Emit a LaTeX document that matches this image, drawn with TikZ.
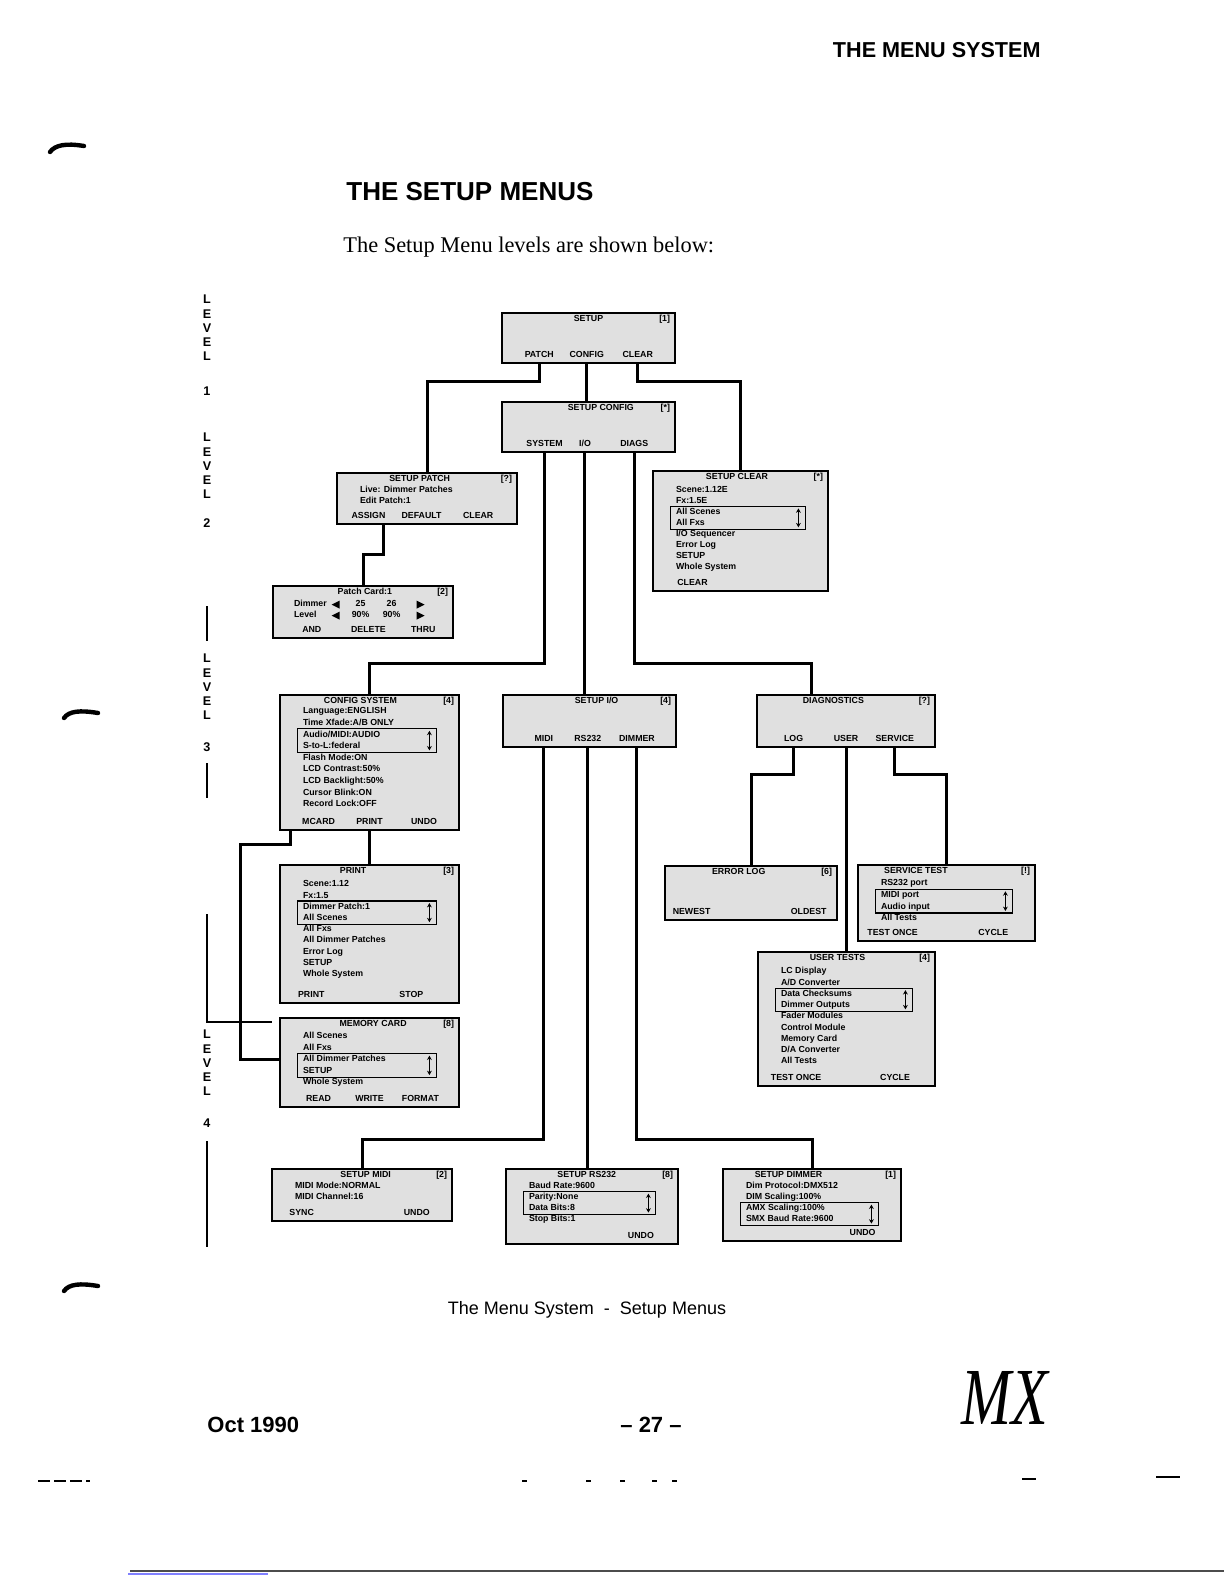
\documentclass[tikz,border=0pt]{standalone}
\usepackage{fontspec}
\setmainfont{Liberation Serif}
\setsansfont{Liberation Sans}
\usepackage{tikz}
\usetikzlibrary{arrows.meta,positioning,calc,fit}

\newcommand{\lcdfont}{\sffamily\bfseries\fontsize{4.4}{5}\selectfont}
\newcommand{\lvlfont}{\sffamily\bfseries\fontsize{6.3}{7.1}\selectfont}

% box: name, top left, bottom right, title position, title, tag
\newcommand{\lcdbox}[6]{%
  \node[lcd, fit={#2 #3}] (#1) {};
  \node[lcdtxt] (#1-title) at ($(#1.north west)!#4!(#1.north east)+(0,8)$) {#5};
  \node[lcdtxt, anchor=east] (#1-tag) at ($(#1.north east)+(-5,8)$) {#6};
}
% rows: name, first offset, spacing, rows
\newcommand{\lcdrows}[4]{%
  \foreach \txt [count=\i] in {#4}
    \node[lcdtxt, anchor=west] (#1-\i) at ($(#1.north west)+(23,#2+#3*\i-#3)$) {\txt};
}
% soft keys: name, key/position list
\newcommand{\lcdkeys}[2]{%
  \foreach \kname/\kpos [count=\i] in {#2}
    \node[lcdtxt] (#1-k\i) at ($(#1.south west)!\kpos!(#1.south east)+(0,-9)$) {\kname};
}
% selection window: name, first row, last row
\newcommand{\lcdsel}[3]{%
  \draw[lcdsel] ($(#1.west |- #1-#2)+(19,-6)$) rectangle ($(#1.east |- #1-#3)+(-24,6)$);
  \draw[updown] ($(#1.east |- #1-#2)+(-31,-4)$) -- ($(#1.east |- #1-#3)+(-31,4)$);
}

\begin{document}
\begin{tikzpicture}[x=0.5pt, y=-0.5pt,
  lcd/.style={draw, line width=1.4pt, fill=black!12, inner sep=0pt},
  lcdtxt/.style={font=\lcdfont, inner sep=0.5pt, text height=3.1pt, text depth=0.9pt},
  lcdsel/.style={line width=0.6pt},
  updown/.style={{Stealth[length=2.2pt,width=2.4pt]}-{Stealth[length=2.2pt,width=2.4pt]}, line width=0.6pt},
  link/.style={line width=1.5pt},
  lvl/.style={font=\lvlfont, align=center, inner sep=0pt},
  lvlline/.style={line width=0.9pt},
  scan/.style={line width=2.2pt, line cap=round}]
  \fill[white] (0,0) rectangle (1224,1584);
  \useasboundingbox (0,0) rectangle (1224,1584);

  % page text
  \node[font=\sffamily\bfseries\fontsize{10.8}{12}\selectfont, anchor=east, inner sep=0pt] (head) at (1041,50) {THE MENU SYSTEM};
  \node[font=\sffamily\bfseries\fontsize{13}{15}\selectfont, anchor=west, inner sep=0pt] (title) at (346,192) {THE SETUP MENUS};
  \node[font=\fontsize{11.2}{13}\selectfont, anchor=west, inner sep=0pt] (intro) at (343,247) {The Setup Menu levels are shown below:};

  % level marks
  \node[lvl] (lvl1) at (207,328) {L\\E\\V\\E\\L};
  \node[lvl] (lvl1n) at (207,391) {1};
  \node[lvl] (lvl2) at (207,466) {L\\E\\V\\E\\L};
  \node[lvl] (lvl2n) at (207,523) {2};
  \node[lvl] (lvl3) at (207,687) {L\\E\\V\\E\\L};
  \node[lvl] (lvl3n) at (207,747) {3};
  \node[lvl] (lvl4) at (207,1063) {L\\E\\V\\E\\L};
  \node[lvl] (lvl4n) at (207,1123) {4};
  \draw[lvlline] (207,606) -- (207,641);
  \draw[lvlline] (207,763) -- (207,798);
  \draw[lvlline] (207,914) -- (207,1022) -- (272,1022);
  \draw[lvlline] (207,1141) -- (207,1247);

  % level 1
  \lcdbox{setup}{(502,313)}{(675,363)}{0.5}{SETUP}{[1]}
  \lcdkeys{setup}{PATCH/0.22, CONFIG/0.49, CLEAR/0.78}
  \lcdbox{setcfg}{(502,402)}{(675,452)}{0.57}{SETUP CONFIG}{[*]}
  \lcdkeys{setcfg}{SYSTEM/0.25, {I/O}/0.48, DIAGS/0.76}

  % level 2
  \lcdbox{setpatch}{(337,473)}{(517,524)}{0.46}{SETUP PATCH}{[?]}
  \lcdrows{setpatch}{19}{11}{Live: Dimmer Patches, Edit Patch:1}
  \lcdkeys{setpatch}{ASSIGN/0.18, DEFAULT/0.47, CLEAR/0.78}

  \lcdbox{setclear}{(653,471)}{(828,591)}{0.48}{SETUP CLEAR}{[*]}
  \lcdrows{setclear}{21}{10.9}{Scene:1.12E, Fx:1.5E, All Scenes, All Fxs, I/O Sequencer, Error Log, SETUP, Whole System}
  \lcdkeys{setclear}{CLEAR/0.23}
  \lcdsel{setclear}{3}{4}

  \lcdbox{patchcard}{(273,586)}{(453,638)}{0.51}{Patch Card:1}{[2]}
  \foreach \lbl/\va/\vb [count=\r] in {Dimmer/25/26, Level/90\%/90\%} {
    \node[lcdtxt, anchor=west] (patchcard-\r) at ($(patchcard.north west)+(21,9+11*\r)$) {\lbl};
    \node[lcdtxt] (patchcard-\r a) at ($(patchcard.north west)+(89,9+11*\r)$) {\va};
    \node[lcdtxt] (patchcard-\r b) at ($(patchcard.north west)+(120,9+11*\r)$) {\vb};
    \fill ($(patchcard.north west)+(60,9+11*\r)$) -- ++(8,-4) -- ++(0,8) -- cycle;
    \fill ($(patchcard.north west)+(153,9+11*\r)$) -- ++(-8,-4) -- ++(0,8) -- cycle;
  }
  \lcdkeys{patchcard}{AND/0.22, DELETE/0.53, THRU/0.83}

  % level 3
  \lcdbox{cfgsys}{(280,695)}{(459,830)}{0.45}{CONFIG SYSTEM}{[4]}
  \lcdrows{cfgsys}{18}{11.6}{Language:ENGLISH, Time Xfade:A/B ONLY, Audio/MIDI:AUDIO, S-to-L:federal, Flash Mode:ON, LCD Contrast:50\%, LCD Backlight:50\%, Cursor Blink:ON, Record Lock:OFF}
  \lcdkeys{cfgsys}{MCARD/0.22, PRINT/0.5, UNDO/0.8}
  \lcdsel{cfgsys}{3}{4}

  \lcdbox{setio}{(503,695)}{(676,747)}{0.54}{SETUP I/O}{[4]}
  \lcdkeys{setio}{MIDI/0.24, RS232/0.49, DIMMER/0.77}

  \lcdbox{diags}{(757,695)}{(935,747)}{0.43}{DIAGNOSTICS}{[?]}
  \lcdkeys{diags}{LOG/0.21, USER/0.5, SERVICE/0.77}

  \lcdbox{print}{(280,865)}{(459,1003)}{0.41}{PRINT}{[3]}
  \lcdrows{print}{21}{11.2}{Scene:1.12, Fx:1.5, Dimmer Patch:1, All Scenes, All Fxs, All Dimmer Patches, Error Log, SETUP, Whole System}
  \lcdkeys{print}{PRINT/0.18, STOP/0.73}
  \lcdsel{print}{3}{4}

  \lcdbox{memcard}{(280,1018)}{(459,1107)}{0.52}{MEMORY CARD}{[8]}
  \lcdrows{memcard}{20}{11.5}{All Scenes, All Fxs, All Dimmer Patches, SETUP, Whole System}
  \lcdkeys{memcard}{READ/0.22, WRITE/0.5, FORMAT/0.78}
  \lcdsel{memcard}{3}{4}

  \lcdbox{errlog}{(665,866)}{(837,920)}{0.43}{ERROR LOG}{[6]}
  \lcdkeys{errlog}{NEWEST/0.16, OLDEST/0.83}

  \lcdbox{svctest}{(858,865)}{(1035,941)}{0.33}{SERVICE TEST}{[!]}
  \lcdrows{svctest}{20}{11.7}{RS232 port, MIDI port, Audio input, All Tests}
  \lcdkeys{svctest}{TEST ONCE/0.2, CYCLE/0.76}
  \lcdsel{svctest}{2}{3}

  \lcdbox{usertests}{(758,952)}{(935,1086)}{0.45}{USER TESTS}{[4]}
  \lcdrows{usertests}{21}{11.25}{LC Display, A/D Converter, Data Checksums, Dimmer Outputs, Fader Modules, Control Module, Memory Card, D/A Converter, All Tests}
  \lcdkeys{usertests}{TEST ONCE/0.22, CYCLE/0.77}
  \lcdsel{usertests}{3}{4}

  % level 4
  \lcdbox{setmidi}{(272,1169)}{(452,1221)}{0.52}{SETUP MIDI}{[2]}
  \lcdrows{setmidi}{19}{11}{MIDI Mode:NORMAL, MIDI Channel:16}
  \lcdkeys{setmidi}{SYNC/0.17, UNDO/0.8}

  \lcdbox{setrs}{(506,1169)}{(678,1244)}{0.47}{SETUP RS232}{[8]}
  \lcdrows{setrs}{19}{11}{Baud Rate:9600, Parity:None, Data Bits:8, Stop Bits:1}
  \lcdkeys{setrs}{UNDO/0.78}
  \lcdsel{setrs}{2}{3}

  \lcdbox{setdim}{(723,1169)}{(901,1241)}{0.37}{SETUP DIMMER}{[1]}
  \lcdrows{setdim}{19}{11}{Dim Protocol:DMX512, DIM Scaling:100\%, AMX Scaling:100\%, SMX Baud Rate:9600}
  \lcdkeys{setdim}{UNDO/0.78}
  \lcdsel{setdim}{3}{4}

  % connectors
  \draw[link] (setup-k1 |- setup.south) -- ++(0,17) -| (setpatch);
  \draw[link] (setup-k2 |- setup.south) -- (setup-k2 |- setcfg.north);
  \draw[link] (setup-k3 |- setup.south) -- ++(0,17) -| (setclear);
  \draw[link] ($(setpatch.south west)!0.26!(setpatch.south east)$) -- ++(0,29) -| (patchcard);
  \draw[link] (setcfg-k1 |- setcfg.south) -- ++(0,210) -| (cfgsys);
  \draw[link] (setcfg-k2 |- setcfg.south) -- (setcfg-k2 |- setio.north);
  \draw[link] (setcfg-k3 |- setcfg.south) -- ++(0,210) -| ($(diags.north west)!0.31!(diags.north east)$);
  \draw[link] (cfgsys.south -| print.north) -- (print.north);
  \draw[link] ($(cfgsys.south west)+(12,0)$) -- ++(0,13) -- ++(-50,0) |- (memcard.west |- memcard-3);
  \draw[link] (setio-k1 |- setio.south) -- ++(0,391) -| (setmidi);
  \draw[link] (setio-k2 |- setio.south) -- (setio-k2 |- setrs.north);
  \draw[link] (setio-k3 |- setio.south) -- ++(0,391) -| (setdim);
  \draw[link] (diags-k1 |- diags.south) -- ++(0,26) -| (errlog);
  \draw[link] (diags-k2 |- diags.south) -- (diags-k2 |- usertests.north);
  \draw[link] (diags-k3 |- diags.south) -- ++(0,26) -| (svctest);

  % caption and footer
  \node[font=\sffamily\fontsize{9}{11}\selectfont] (caption) at (587,1310) {The Menu System \ - \ Setup Menus};
  \node[font=\sffamily\bfseries\fontsize{11}{13}\selectfont, anchor=west, inner sep=0pt] (date) at (207,1425) {Oct 1990};
  \node[font=\sffamily\bfseries\fontsize{11}{13}\selectfont] (page) at (651,1425) {-- 27 --};
  \node[font=\fontsize{30}{30}\selectfont\itshape, yscale=1.35] (logo) at (1005,1398) {MX};

  % scan marks
  \draw[scan] (50,152) .. controls (55,145) and (66,143) .. (84,146);
  \draw[scan] (64,718) .. controls (69,711) and (80,710) .. (98,713);
  \draw[scan] (64,1291) .. controls (69,1284) and (80,1283) .. (98,1286);
  \draw[line width=0.8pt, dash pattern=on 6pt off 2pt] (38,1481) -- (90,1481);
  \draw[line width=0.8pt] (1156,1477) -- (1180,1477);
  \draw[line width=0.6pt] (1022,1479) -- (1036,1479);
  \foreach \dx in {522,586,620,652,672} \draw[line width=0.6pt] (\dx,1481) -- ++(5,0);
  \draw[black!70, line width=0.9pt] (130,1571) -- (1224,1571);
  \draw[blue!50, line width=0.9pt] (128,1574) -- (268,1574);
\end{tikzpicture}
\end{document}
